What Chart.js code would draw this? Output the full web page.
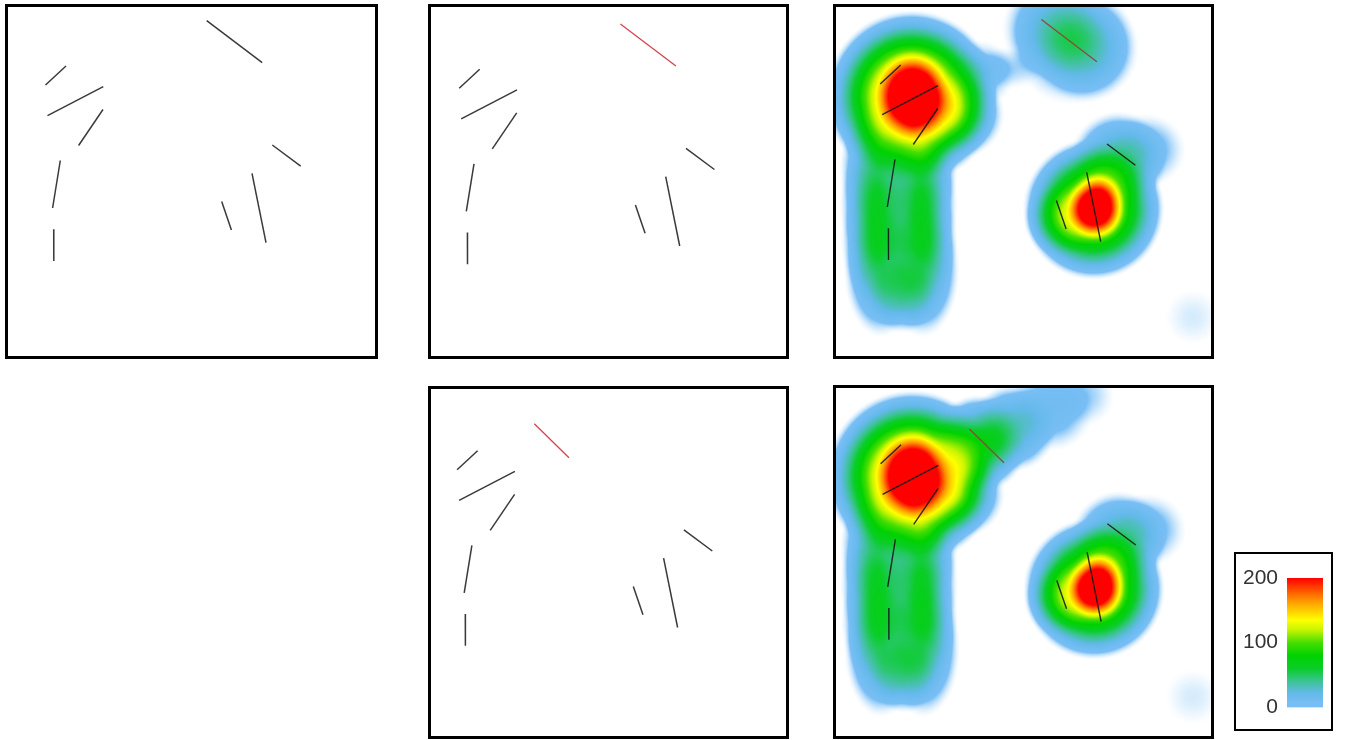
<!DOCTYPE html>
<html>
<head>
<meta charset="utf-8">
<script src="https://cdn.jsdelivr.net/npm/chart.js@4.4.1/dist/chart.umd.min.js"></script>
<style>
html,body{margin:0;padding:0;background:#fff;}
body{width:1346px;height:740px;position:relative;overflow:hidden;}
.painel{position:absolute;border:3px solid #000;background:#fff;}
.painel canvas{display:block;}
.legenda{position:absolute;border:2px solid #000;background:#fff;}
.legenda canvas{display:block;}
</style>
</head>
<body>

<div class="painel" style="left:5px;top:4px;"><canvas id="pA" width="367" height="349"></canvas></div>
<div class="painel" style="left:428px;top:4px;"><canvas id="pB" width="355" height="349"></canvas></div>
<div class="painel" style="left:833px;top:4px;"><canvas id="pC" width="375" height="349"></canvas></div>
<div class="painel" style="left:428px;top:386px;"><canvas id="pD" width="355" height="347"></canvas></div>
<div class="painel" style="left:833px;top:385px;"><canvas id="pE" width="375" height="348"></canvas></div>
<div class="legenda" style="left:1234px;top:552px;"><canvas id="barra" width="95" height="175"></canvas></div>

<script>
"use strict";

/* =========================
   DADOS - SEGMENTOS
========================= */

// the eight fixed strokes (same frame in every panel)
const segX0 = [39.5, 41.5, 72.6, 46.6, 47.7, 266.3, 246.0, 215.7];
const segY0 = [80.0, 110.6, 140.5, 203.0, 224.3, 140.0, 168.3, 196.6];
const segX1 = [60.0, 97.3, 97.0, 54.3, 47.8, 294.7, 260.0, 225.4];
const segY1 = [61.0, 81.6, 104.5, 155.5, 256.0, 161.2, 237.7, 225.0];

// the stroke that moves
const movidoX = [200.7, 256.2];
const movidoY = [15.6, 57.7];
const movidoDX = [116.7, 151.4];
const movidoDY = [33.9, 67.9];
const movidoEX = [128.2, 162.9];
const movidoEY = [45.2, 78.9];

/* =========================
   DADOS - DENSIDADE
========================= */

// shared kernels: big blob (+ right shoulder), tail (two columns), right blob, corner
const baseKX  = [71, 72, 120, 140, 36, 80, 36, 80, 37, 80, 40, 82, 62, 253, 256, 222, 278, 305, 352];
const baseKY  = [93, 92, 110, 70, 165, 165, 200, 200, 235, 235, 265, 265, 290, 205, 203, 215, 156, 146, 313];
const baseKW  = [190, 90, 32, 10, 30, 30, 30, 30, 30, 30, 30, 30, 28, 140, 120, 30, 35, 10, 2];
const baseKHX = [88, 40, 45, 35, 38, 38, 38, 38, 38, 38, 38, 38, 38, 72, 32, 40, 50, 42, 30];
const baseKHY = [88, 50, 45, 35, 70, 70, 70, 70, 70, 70, 70, 70, 40, 72, 38, 40, 50, 38, 30];

// kernels around the stroke in its first place (top right view)
const topoKX  = [215, 245, 232, 165];
const topoKY  = [25, 45, 38, 64];
const topoKW  = [24, 24, 16, 5];
const topoKHX = [55, 55, 65, 40];
const topoKHY = [55, 55, 65, 22];

// kernels around the stroke in its new place (bottom right view)
const novoKX  = [138, 172, 210, 243];
const novoKY  = [60, 44, 24, 12];
const novoKW  = [55, 30, 12, 5];
const novoKHX = [50, 45, 45, 32];
const novoKHY = [50, 45, 45, 32];

/* =========================
   DADOS - ESCALA DE CORES
========================= */

const escalaTicks = [0, 100, 200];
const corValores = [0, 6, 22, 40, 60, 80, 100, 120, 135, 165, 200];
const corRGB = [
    [135, 198, 248],
    [120, 190, 245],
    [100, 185, 235],
    [60, 195, 150],
    [10, 205, 40],
    [0, 210, 0],
    [70, 222, 0],
    [200, 245, 0],
    [255, 255, 0],
    [255, 150, 0],
    [255, 0, 0]
];

/* =========================
   CORES
========================= */

function corDe(v){

    if(v > 200) v = 200;

    let i = 1;

    while(i < corValores.length - 1 && v > corValores[i]) i++;

    const a = corValores[i - 1], b = corValores[i];

    let t = (v - a) / (b - a);

    if(t < 0) t = 0;
    if(t > 1) t = 1;

    const c0 = corRGB[i - 1], c1 = corRGB[i];

    return [
        c0[0] + (c1[0] - c0[0]) * t,
        c0[1] + (c1[1] - c0[1]) * t,
        c0[2] + (c1[2] - c0[2]) * t
    ];

}

function juntar(listas){

    return {
        x: [].concat(...listas.map(l => l[0])),
        y: [].concat(...listas.map(l => l[1])),
        w: [].concat(...listas.map(l => l[2])),
        hx: [].concat(...listas.map(l => l[3])),
        hy: [].concat(...listas.map(l => l[4]))
    };

}

/* =========================
   PLUGIN DE CALOR
========================= */

function pluginCalor(kern){

    return {

        id: "calor",

        beforeDatasetsDraw(chart){

            const area = chart.chartArea;
            const sx = chart.scales.x;
            const sy = chart.scales.y;
            const ctx = chart.ctx;

            const left = Math.round(area.left);
            const top = Math.round(area.top);
            const w = Math.round(area.right) - left;
            const h = Math.round(area.bottom) - top;

            const ks = kern.x.map(function(kx, i){

                const px = sx.getPixelForValue(kx);
                const py = sy.getPixelForValue(kern.y[i]);

                return {
                    px: px,
                    py: py,
                    rx: Math.abs(sx.getPixelForValue(kx + kern.hx[i]) - px),
                    ry: Math.abs(sy.getPixelForValue(kern.y[i] + kern.hy[i]) - py),
                    w: kern.w[i]
                };

            });

            const img = ctx.createImageData(w, h);
            const d = img.data;

            for(let j = 0; j < h; j++){

                const Y = top + j + 0.5;

                for(let i = 0; i < w; i++){

                    const X = left + i + 0.5;

                    let v = 0;

                    for(let k = 0; k < ks.length; k++){

                        const dx = (X - ks[k].px) / ks[k].rx;
                        const dy = (Y - ks[k].py) / ks[k].ry;
                        const q = dx * dx + dy * dy;

                        if(q < 1){
                            const u = 1 - q;
                            v += ks[k].w * u * u;
                        }

                    }

                    const c = corDe(v);
                    const a = v >= 6 ? 1 : v / 6;
                    const p = (j * w + i) * 4;

                    d[p] = 255 + (c[0] - 255) * a;
                    d[p + 1] = 255 + (c[1] - 255) * a;
                    d[p + 2] = 255 + (c[2] - 255) * a;
                    d[p + 3] = 255;

                }

            }

            ctx.putImageData(img, left, top);

        }

    };

}

/* =========================
   PAINEIS
========================= */

function segmentos(cor, largura){

    return segX0.map(function(x, i){

        return {
            data: [{x: x, y: segY0[i]}, {x: segX1[i], y: segY1[i]}],
            borderColor: cor,
            borderWidth: largura,
            pointRadius: 0,
            fill: false
        };

    });

}

function traco(xs, ys, cor, largura){

    return {
        data: [{x: xs[0], y: ys[0]}, {x: xs[1], y: ys[1]}],
        borderColor: cor,
        borderWidth: largura,
        pointRadius: 0,
        fill: false
    };

}

function painel(id, xr, yr, datasets, kern){

    new Chart(document.getElementById(id), {

        type: "line",

        data: { datasets: datasets },

        options: {

            responsive: false,
            animation: false,
            events: [],
            layout: { padding: 0 },

            plugins: {
                legend: { display: false },
                tooltip: { enabled: false }
            },

            scales: {
                x: { type: "linear", display: false, min: xr[0], max: xr[1] },
                y: { type: "linear", display: false, reverse: true, min: yr[0], max: yr[1] }
            }

        },

        plugins: kern ? [pluginCalor(kern)] : []

    });

}

const CINZA = "#3a3a3a";
const ESCURO = "rgba(25,25,25,0.9)";
const VERMELHO = "#d6424f";
const MARROM = "#8c4a36";

const kernBase = [baseKX, baseKY, baseKW, baseKHX, baseKHY];

painel("pA", [2, 369], [2, 351],
    segmentos(CINZA, 1.5).concat([traco(movidoX, movidoY, CINZA, 1.5)]));

painel("pB", [11.3, 366.3], [-1.3, 347.7],
    segmentos(CINZA, 1.5).concat([traco(movidoX, movidoY, VERMELHO, 1.3)]));

painel("pC", [-4.7, 370.3], [3, 352],
    segmentos(ESCURO, 1.4).concat([traco(movidoX, movidoY, MARROM, 1.3)]),
    juntar([kernBase, [topoKX, topoKY, topoKW, topoKHX, topoKHY]]));

painel("pD", [13.4, 368.4], [-0.8, 346.2],
    segmentos(CINZA, 1.5).concat([traco(movidoDX, movidoDY, VERMELHO, 1.3)]));

painel("pE", [-5.1, 369.9], [4.2, 352.2],
    segmentos(ESCURO, 1.4).concat([traco(movidoEX, movidoEY, MARROM, 1.3)]),
    juntar([kernBase, [novoKX, novoKY, novoKW, novoKHX, novoKHY]]));

/* =========================
   BARRA DE CORES
========================= */

new Chart(document.getElementById("barra"), {

    type: "bar",

    data: {
        labels: ["escala"],
        datasets: [{
            data: [[escalaTicks[0], escalaTicks[escalaTicks.length - 1]]],
            borderWidth: 0,
            barPercentage: 1,
            categoryPercentage: 1,
            backgroundColor: function(c){

                const chart = c.chart;

                if(!chart.chartArea) return "#ccc";

                const sy = chart.scales.y;
                const max = escalaTicks[escalaTicks.length - 1];
                const g = chart.ctx.createLinearGradient(0, sy.getPixelForValue(0), 0, sy.getPixelForValue(max));

                corValores.forEach(function(v, i){
                    const rgb = i === 0 ? corRGB[1] : corRGB[i];
                    g.addColorStop(v / max, "rgb(" + rgb.map(Math.round).join(",") + ")");
                });

                return g;

            }
        }]
    },

    options: {

        responsive: false,
        animation: false,
        events: [],
        layout: { padding: { top: 24, bottom: 16, left: 0, right: 8 } },

        plugins: {
            legend: { display: false },
            tooltip: { enabled: false }
        },

        scales: {
            x: { display: false },
            y: {
                min: escalaTicks[0],
                max: escalaTicks[escalaTicks.length - 1],
                afterFit: function(s){ s.width = 51; },
                afterBuildTicks: function(s){ s.ticks = escalaTicks.map(v => ({ value: v })); },
                grid: { display: false, drawTicks: false },
                border: { display: false },
                ticks: {
                    padding: 9,
                    color: "#333",
                    font: { family: "'Liberation Sans', Arial, sans-serif", size: 21 }
                }
            }
        }

    }

});
</script>
</body>
</html>
